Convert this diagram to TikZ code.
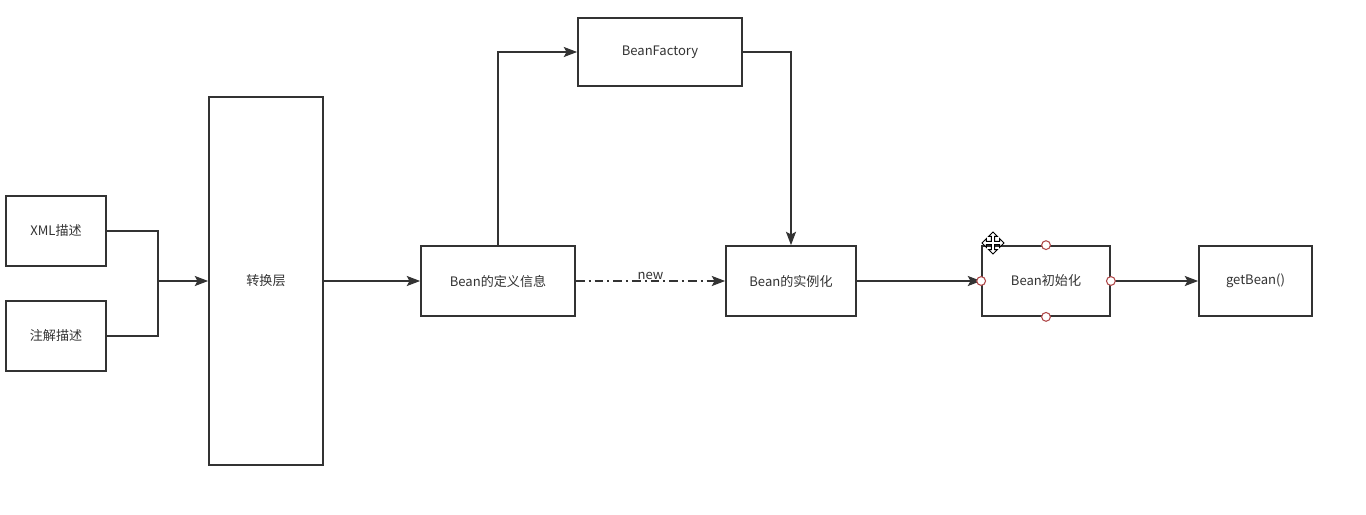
\documentclass[tikz,border=0pt]{standalone}
\usepackage{fontspec}
\setmainfont{Noto Sans CJK SC}
\usetikzlibrary{arrows.meta}
\definecolor{ink}{HTML}{333333}
\definecolor{handle}{HTML}{B0494A}
\tikzset{
  box/.style={draw=ink, line width=1.3pt, fill=white, inner sep=0pt, text=ink, font=\fontsize{9.8pt}{11pt}\selectfont},
  link/.style={draw=ink, line width=1.3pt},
  arr/.style={link, -{Stealth[length=10pt,width=7.5pt,inset=2pt]}},
  dashdot/.style={arr, dash pattern=on 6.5pt off 3pt on 1.5pt off 3pt},
  hnd/.style={draw=handle, fill=white, line width=0.8pt},
}
\begin{document}
\begin{tikzpicture}[x=0.75pt,y=-0.75pt]
\useasboundingbox[fill=white] (0,0) rectangle (1366,514);
\node[box, minimum width=75pt, minimum height=52.5pt] (xml) at (56,231) {XML描述};
\node[box, minimum width=75pt, minimum height=52.5pt] (ann) at (56,336) {注解描述};
\node[box, minimum width=85.5pt, minimum height=276pt] (conv) at (266,281) {转换层};
\node[box, minimum width=115.5pt, minimum height=52.5pt] (def) at (498,281) {Bean的定义信息};
\node[box, minimum width=123pt, minimum height=51pt] (bf) at (660,52) {BeanFactory};
\node[box, minimum width=97.5pt, minimum height=52.5pt] (inst) at (791,281) {Bean的实例化};
\node[box, minimum width=96pt, minimum height=52.5pt] (init) at (1046,281) {Bean初始化};
\node[box, minimum width=84.75pt, minimum height=52.5pt] (get) at (1255.5,281) {getBean()};
\coordinate (j) at (158,281);
\draw[link] (xml.east) -| (j);
\draw[link] (ann.east) -| (j);
\draw[arr] (j) -- (conv.west);
\draw[arr] (conv.east) -- (def.west);
\draw[arr] (def.north) |- (bf.west);
\draw[arr] (bf.east) -| (inst.north);
\draw[dashdot] (def.east) -- node[above=-0.5pt, text=ink, font=\fontsize{9.8pt}{11pt}\selectfont, inner sep=1pt] (newlbl) {new} (inst.west);
\draw[arr] (inst.east) -- (init.west);
\draw[arr] (init.east) -- (get.west);
% selection handles
\foreach \a in {west,east,north,south}
  \draw[hnd] (init.\a) circle[radius=3.3pt];
% move cursor
\begin{scope}[shift={(993,243)}, scale=1.1]
\draw[fill=white, draw=black, line width=0.7pt, line join=miter]
 (1.5,-1.5)--(6,-1.5)--(6,-4)--(10,0)--(6,4)--(6,1.5)--(1.5,1.5)--(1.5,6)--(4,6)--(0,10)--(-4,6)--(-1.5,6)--(-1.5,1.5)--(-6,1.5)--(-6,4)--(-10,0)--(-6,-4)--(-6,-1.5)--(-1.5,-1.5)--(-1.5,-6)--(-4,-6)--(0,-10)--(4,-6)--(1.5,-6)--cycle;
\end{scope}
\end{tikzpicture}
\end{document}
